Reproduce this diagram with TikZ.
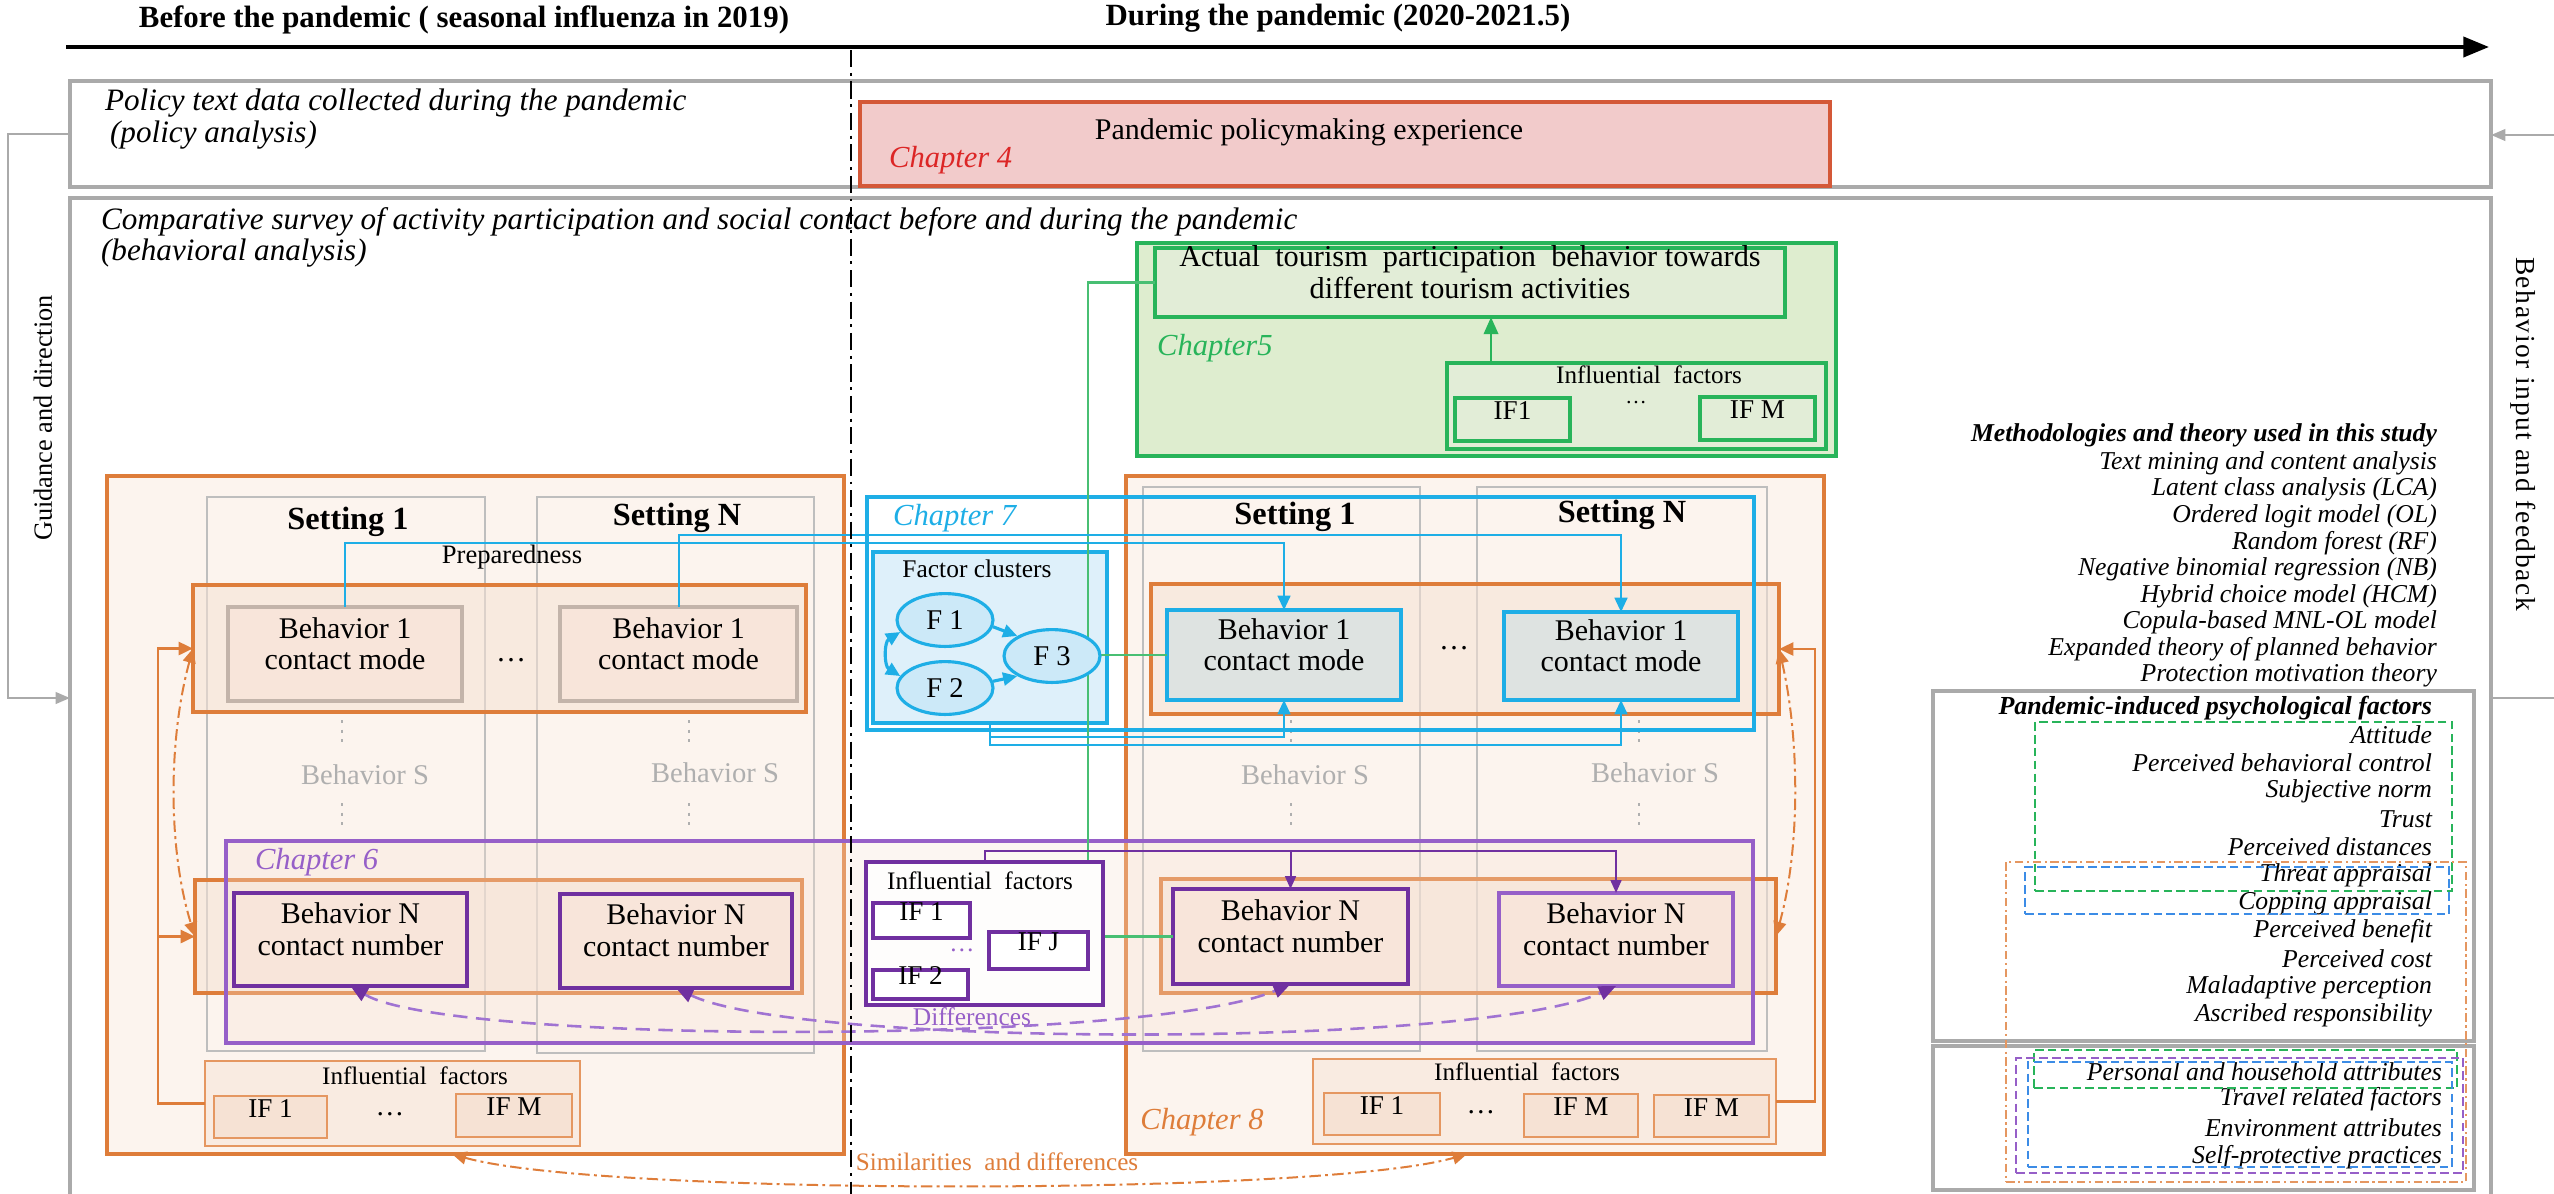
\documentclass[tikz,border=0pt]{standalone}
\usepackage{fontspec}
\setmainfont{Liberation Serif}
\usetikzlibrary{arrows.meta,fit,shapes.geometric}

\definecolor{orng}{RGB}{222,125,58}
\definecolor{orfill}{RGB}{252,244,238}
\definecolor{bandfill}{RGB}{246,226,212}
\definecolor{bxfill}{RGB}{248,229,218}
\definecolor{grline}{RGB}{170,170,170}
\definecolor{colgray}{RGB}{190,190,190}
\definecolor{cyn}{RGB}{30,174,230}
\definecolor{cynfill}{RGB}{222,240,250}
\definecolor{elfill}{RGB}{204,233,248}
\definecolor{bfill}{RGB}{222,227,225}
\definecolor{grn}{RGB}{40,180,90}
\definecolor{grnfill}{RGB}{222,237,207}
\definecolor{grninner}{RGB}{226,237,215}
\definecolor{purp}{RGB}{112,48,160}
\definecolor{mpurp}{RGB}{150,95,200}
\definecolor{lpurp}{RGB}{160,115,210}
\definecolor{redt}{RGB}{220,38,38}
\definecolor{redline}{RGB}{212,88,56}
\definecolor{redfill}{RGB}{242,203,203}
\definecolor{ltgray}{RGB}{175,175,175}
\definecolor{dblue}{RGB}{60,140,230}

\newcommand{\fs}[2]{\fontsize{#1}{#2}\selectfont}

\begin{document}
\begin{tikzpicture}[x=0.0123cm,y=-0.0123cm,
  fr/.style={inner sep=0pt,outer sep=0pt},
  gbox/.style={fr,draw=grline,line width=1.1pt},
  redbox/.style={fr,draw=redline,fill=redfill,line width=1.2pt},
  g5out/.style={fr,draw=grn,fill=grnfill,line width=1.1pt},
  g5in/.style={fr,draw=grn,fill=grninner,line width=1.1pt,align=center},
  orout/.style={fr,draw=orng,fill=orfill,line width=1.1pt},
  col/.style={fr,draw=colgray,line width=1pt},
  band/.style={fr,draw=orng,fill=bandfill,fill opacity=0.55,line width=1.1pt},
  lbx/.style={fr,draw=colgray!85!orng,fill=bxfill,line width=1.1pt,align=center,font=\fs{10.5}{10.8}},
  cbx/.style={fr,draw=cyn,fill=bfill,line width=1.3pt,align=center,font=\fs{10.5}{10.8}},
  pbx/.style={fr,draw=purp,fill=bxfill,line width=1.4pt,align=center,font=\fs{10.5}{11.2}},
  p6/.style={fr,draw=mpurp,fill=bandfill,fill opacity=0.3,line width=1.1pt},
  pif/.style={fr,draw=purp,fill=white!80!orfill,line width=1.2pt},
  pifs/.style={fr,draw=purp,fill=white,line width=1.3pt,font=\fs{9.5}{10}},
  oif/.style={fr,draw=orng!80,fill=bandfill!70,line width=0.9pt},
  oifs/.style={fr,draw=orng!80,fill=bandfill,line width=0.9pt,font=\fs{9.5}{10}},
  cybox/.style={fr,draw=cyn,line width=1.2pt},
  cyin/.style={fr,draw=cyn,fill=cynfill,line width=1.2pt},
  fel/.style={ellipse,draw=cyn,fill=elfill,line width=1.1pt,minimum width=1.18cm,minimum height=0.65cm,inner sep=0pt,font=\fs{10}{11}},
  ttl/.style={font=\fs{10.8}{12}\bfseries},
  itx/.style={font=\fs{10.9}{12}\itshape},
  chap/.style={font=\fs{10.7}{12}\itshape},
  sett/.style={font=\fs{11.3}{12}\bfseries},
  bsl/.style={text=ltgray,font=\fs{10}{11}},
  inf/.style={font=\fs{8.8}{10}},
  mth/.style={anchor=east,font=\fs{9}{10}\itshape},
  vtx/.style={font=\fs{9.2}{10}},
  dotl/.style={draw=ltgray,line width=0.8pt,dash pattern=on 1.2pt off 2.2pt},
  carrow/.style={draw=cyn,line width=0.7pt,-{Triangle[length=5pt,width=4.5pt]}},
  parrow/.style={draw=purp,line width=0.7pt,-{Triangle[length=4.5pt,width=3.8pt]}},
  pdash/.style={draw=lpurp,line width=0.9pt,dash pattern=on 5pt off 3pt,{Triangle[length=6pt,width=5pt,color=purp]}-{Triangle[length=6pt,width=5pt,color=purp]}},
  odd/.style={draw=orng,line width=0.7pt,dash pattern=on 4pt off 1.5pt on 1pt off 1.5pt,{Triangle[length=5pt,width=4.5pt]}-{Triangle[length=5pt,width=4.5pt]}},
  oarr/.style={draw=orng,line width=1pt,-{Triangle[length=5pt,width=4.5pt]}},
  gln/.style={draw=grn!85,line width=0.8pt},
  garr/.style={draw=grn,line width=1pt,-{Triangle[length=6pt,width=5pt]}},
  grarr/.style={draw=grline,line width=0.9pt,-{Triangle[length=5pt,width=4pt]}},
  timeline/.style={line width=1.4pt,-{Triangle[length=9pt,width=7pt]}},
  vdd/.style={line width=0.8pt,dash pattern=on 6pt off 2pt on 1pt off 2pt},
  dgrn/.style={fr,draw=grn,line width=0.7pt,dash pattern=on 3pt off 1.5pt},
  dblu/.style={fr,draw=dblue,line width=0.7pt,dash pattern=on 3pt off 1.5pt},
  dpur/.style={fr,draw=mpurp,line width=0.7pt,dash pattern=on 3pt off 1.5pt},
  dorg/.style={fr,draw=orng!80,line width=0.6pt,dash pattern=on 3pt off 1.2pt on 0.8pt off 1.2pt}
]
\useasboundingbox (0,0) rectangle (2554,1193);

% ---------- time axis ----------
\node[ttl] (tbefore) at (464,20) {Before the pandemic ( seasonal influenza in 2019)};
\node[ttl] (tduring) at (1338,18) {During the pandemic (2020-2021.5)};
\coordinate (axs) at (66,47);
\coordinate (axe) at (2489,47);
\draw[timeline] (axs) -- (axe);

% ---------- outer data frames ----------
\node[gbox, fit={(70,81) (2491,187)}] (pol) {};
\node[itx, anchor=west] (poltxt) at (95,103) {Policy text data collected during the pandemic};
\node[itx, anchor=west] (poltxt2) at (100,135) {(policy analysis)};
\node[gbox, fit={(70,198) (2491,1230)}] (beh) {};
\node[itx, anchor=west] (behtxt) at (91,222) {Comparative survey of activity participation and social contact before and during the pandemic};
\node[itx, anchor=west] (behtxt2) at (91,253) {(behavioral analysis)};

% guidance / feedback loops
\coordinate (gl1) at (8,134);
\coordinate (gl2) at (8,698);
\draw[grarr] (pol.west) -- (gl1) -- (gl2) -- (gl2 -| beh.west);
\node[vtx, rotate=90] (guid) at (43,418) {Guidance and direction};
\coordinate (fb1) at (2575,698);
\coordinate (fb2) at (2575,135);
\draw[grarr] (fb1 -| beh.east) -- (fb1) -- (fb2) -- (fb2 -| pol.east);
\node[rotate=-90, font=\fs{9.6}{10}\addfontfeatures{LetterSpace=6}] (feed) at (2523,434) {Behavior input and feedback};

% ---------- Chapter 4 ----------
\node[redbox, fit={(860,102) (1830,186)}] (ch4) {};
\node[font=\fs{10.5}{12}] (ch4txt) at (1309,132) {Pandemic policymaking experience};
\node[chap, text=redt, anchor=west] (ch4lab) at (879,160) {Chapter 4};

% ---------- Chapter 5 ----------
\node[g5out, fit={(1137,243) (1836,456)}] (ch5) {};
\node[g5in, fit={(1155,248) (1785,317)}, font=\fs{10.6}{11.2}] (tour) {Actual~~tourism~~participation~~behavior towards\\different tourism activities};
\node[chap, text=grn, anchor=west] (ch5lab) at (1147,348) {Chapter5};
\node[g5in, fit={(1447,363) (1826,449)}] (c5if) {};
\node[inf] (c5iflab) at (1649,375) {Influential~~factors};
\node[font=\fs{7.5}{8}, inner sep=0pt] (c5dots) at (1636,403) {\dots};
\node[g5in, fit={(1455,398) (1570,441)}, font=\fs{9.5}{10}] (c5if1) {IF1};
\node[g5in, fit={(1700,397) (1815,440)}, font=\fs{9.5}{10}] (c5ifm) {IF M};
\coordinate (c5x) at (1491,0);
\draw[garr] (c5if.north -| c5x) -- (tour.south -| c5x);

% ---------- Chapter 8 frames (before / during) ----------
\node[orout, fit={(107,476) (844,1154)}] (lo) {};
\node[orout, fit={(1126,476) (1824,1154)}] (ro) {};
\node[col, fit={(207,497) (485,1051)}] (lc1) {};
\node[col, fit={(537,497) (814,1053)}] (lcn) {};
\node[col, fit={(1143,487) (1420,1051)}] (rc1) {};
\node[col, fit={(1477,487) (1767,1051)}] (rcn) {};
\node[sett] (ls1) at (348,522) {Setting 1};
\node[sett] (lsn) at (677,518) {Setting N};
\node[sett] (rs1) at (1295,517) {Setting 1};
\node[sett] (rsn) at (1622,515) {Setting N};
\node[band, fit={(193,585) (806,712)}] (lb1) {};
\node[band, fit={(195,880) (802,993)}] (lbn) {};
\node[band, fit={(1151,584) (1779,714)}] (rb1) {};
\node[band, fit={(1161,879) (1776,993)}] (rbn) {};

% Behavior S placeholders
\node[bsl] (lbs1) at (365,775) {Behavior S};
\node[bsl] (lbsn) at (715,773) {Behavior S};
\node[bsl] (rbs1) at (1305,775) {Behavior S};
\node[bsl] (rbsn) at (1655,773) {Behavior S};
\foreach \x in {342,689,1291,1639}{
  \draw[dotl] (\x,720) -- (\x,742);
  \draw[dotl] (\x,803) -- (\x,825);
}

% ---------- Chapter 7 ----------
\node[cybox, fit={(867,497) (1754,730)}] (ch7) {};
\node[chap, text=cyn, anchor=west] (ch7lab) at (883,518) {Chapter 7};
\node[cyin, fit={(873,552) (1107,723)}] (fc) {};
\node[font=\fs{8.9}{10}] (fclab) at (977,569) {Factor clusters};

% ---------- Chapter 6 ----------
\node[p6, fit={(226,841) (1753,1043)}] (ch6) {};
\node[chap, text=mpurp, anchor=west] (ch6lab) at (245,862) {Chapter 6};

% green links from Chapter 5 run along this column
\coordinate (gx) at (1088,0);

% ---------- behaviour boxes ----------
\node[lbx, fit={(228,607) (462,701)}] (lb1a) {Behavior 1\\contact mode};
\node[lbx, fit={(560,607) (797,701)}] (lb1b) {Behavior 1\\contact mode};
\node[cbx, fit={(1167,610) (1401,700)}] (rb1a) {Behavior 1\\contact mode};
\node[cbx, fit={(1504,612) (1738,700)}] (rb1b) {Behavior 1\\contact mode};
\node[font=\fs{10.5}{11}] (ldots1) at (511,660) {\dots};
\node[font=\fs{10.5}{11}] (rdots1) at (1454,648) {\dots};

\node[pbx, fit={(234,893) (467,986)}] (lbna) {Behavior N\\contact number};
\node[pbx, fit={(560,894) (792,988)}] (lbnb) {Behavior N\\contact number};
\node[pbx, fit={(1173,889) (1408,984)}] (rbna) {Behavior N\\contact number};
\node[pbx, draw=mpurp, fit={(1499,893) (1733,986)}] (rbnb) {Behavior N\\contact number};

\draw[gln] (tour.west) -| (gx |- rbna.west) -- (rbna.west);
\draw[gln] (gx |- rb1a.west) -- (rb1a.west);

% factor clusters
\node[fel] (f1) at (945,620) {F 1};
\node[fel] (f2) at (945,688) {F 2};
\node[fel] (f3) at (1052,656) {F 3};
\draw[carrow, line width=1.1pt] (f1.-8) -- (f3.150);
\draw[carrow, line width=1.1pt] (f2.8) -- (f3.-150);
\draw[carrow, line width=1.1pt, {Triangle[length=5pt,width=4.5pt]}-{Triangle[length=5pt,width=4.5pt]}] (f1.195) .. controls (884,642) and (884,666) .. (f2.165);

% preparedness links
\coordinate (cy1) at (0,543);
\coordinate (cy2) at (0,535);
\coordinate (cy3) at (0,737);
\coordinate (cy4) at (0,745);
\draw[carrow] (lb1a.north) -- (lb1a.north |- cy1) -- (rb1a.north |- cy1) -- (rb1a.north);
\draw[carrow] (lb1b.north) -- (lb1b.north |- cy2) -- (rb1b.north |- cy2) -- (rb1b.north);
\node[font=\fs{9.3}{10}] (prep) at (512,557) {Preparedness};
\draw[carrow] (fc.south) -- (fc.south |- cy3) -- (rb1a.south |- cy3) -- (rb1a.south);
\draw[carrow] (fc.south) -- (fc.south |- cy4) -- (rb1b.south |- cy4) -- (rb1b.south);

% ---------- influential factors (Chapter 6, middle) ----------
\node[pif, fit={(866,862) (1103,1005)}] (mif) {};
\node[inf] (miflab) at (980,881) {Influential~~factors};
\node[pifs, fit={(873,903) (970,938)}] (mif1) {IF 1};
\node[pifs, fit={(989,932) (1088,969)}] (mifj) {IF J};
\node[pifs, fit={(873,970) (968,999)}] (mif2) {IF 2};
\node[inf, text=mpurp] (mifdots) at (962,950) {\dots};
\coordinate (py) at (0,851);
\draw[parrow] (mif.north) |- (rbnb.north |- py) -- (rbnb.north);
\draw[parrow] (rbna.north |- py) -- (rbna.north);

% differences
\draw[pdash] (lbna.south) .. controls (450,1045) and (1150,1045) .. (rbna.south);
\draw[pdash] (lbnb.south) .. controls (800,1048) and (1480,1048) .. (rbnb.south);
\node[font=\fs{8.9}{10}, text=mpurp] (diff) at (972,1017) {Differences};

% ---------- influential factors (Chapter 8) ----------
\node[oif, fit={(205,1061) (580,1146)}] (lif) {};
\node[inf] (liflab) at (415,1076) {Influential~~factors};
\node[oifs, fit={(214,1096) (327,1138)}] (lif1) {IF 1};
\node[font=\fs{10}{11}] (lifdots) at (390,1114) {\dots};
\node[oifs, fit={(456,1094) (572,1137)}] (lifm) {IF M};

\node[oif, fit={(1313,1059) (1776,1144)}] (rif) {};
\node[inf] (riflab) at (1527,1072) {Influential~~factors};
\node[oifs, fit={(1324,1093) (1440,1135)}] (rif1) {IF 1};
\node[font=\fs{10}{11}] (rifdots) at (1481,1112) {\dots};
\node[oifs, fit={(1524,1094) (1638,1137)}] (rifm) {IF M};
\node[oifs, fit={(1654,1095) (1769,1137)}] (rifm2) {IF M};
\node[chap, text=orng] (ch8lab) at (1202,1122) {Chapter 8};

\coordinate (olx) at (158,0);
\coordinate (orx) at (1815,0);
\draw[oarr] (lif.west) -| (olx |- lb1.west) -- (lb1.west);
\draw[oarr] (olx |- lbn.west) -- (lbn.west);
\draw[odd] (lb1.west) .. controls (168,740) and (168,850) .. (lbn.west);
\draw[oarr] (rif.east) -| (orx |- rb1.east) -- (rb1.east);
\draw[odd] (rb1.east) .. controls (1800,740) and (1800,850) .. (rbn.east);

% similarities
\coordinate (sx1) at (452,0);
\coordinate (sx2) at (1467,0);
\draw[odd] (sx1 |- lo.south) .. controls (600,1196) and (1320,1196) .. (sx2 |- ro.south);
\node[font=\fs{8.8}{10}, text=orng] (simi) at (997,1162) {Similarities~~and differences};

% ---------- before / during divider ----------
\coordinate (dv1) at (851,50);
\coordinate (dv2) at (851,1200);
\draw[vdd] (dv1) -- (dv2);

% ---------- methods and factors ----------
\node[mth, font=\fs{9}{10}\bfseries\itshape] (mt0) at (2447,435) {Methodologies and theory used in this study};
\node[mth] (mt1) at (2447,463) {Text mining and content analysis};
\node[mth] (mt2) at (2447,489.6) {Latent class analysis (LCA)};
\node[mth] (mt3) at (2447,516.2) {Ordered logit model (OL)};
\node[mth] (mt4) at (2447,542.8) {Random forest (RF)};
\node[mth] (mt5) at (2447,569.4) {Negative binomial regression (NB)};
\node[mth] (mt6) at (2447,596) {Hybrid choice model (HCM)};
\node[mth] (mt7) at (2447,622.6) {Copula-based MNL-OL model};
\node[mth] (mt8) at (2447,649.2) {Expanded theory of planned behavior};
\node[mth] (mt9) at (2447,675.8) {Protection motivation theory};

\node[gbox, fit={(1933,691) (2474,1041)}] (psy) {};
\node[mth, font=\fs{9.1}{10}\bfseries\itshape] (ps0) at (2442,708) {Pandemic-induced psychological factors};
\node[mth] (ps1) at (2442,735) {Attitude};
\node[mth] (ps2) at (2442,763) {Perceived behavioral control};
\node[mth] (ps3) at (2442,791) {Subjective norm};
\node[mth] (ps4) at (2442,819) {Trust};
\node[mth] (ps5) at (2442,847) {Perceived distances};
\node[mth] (ps6) at (2442,875) {Threat appraisal};
\node[mth] (ps7) at (2442,903) {Copping appraisal};
\node[mth] (ps8) at (2442,931) {Perceived benefit};
\node[mth] (ps9) at (2442,959) {Perceived cost};
\node[mth] (ps10) at (2442,987) {Maladaptive perception};
\node[mth] (ps11) at (2442,1015) {Ascribed responsibility};
\node[dgrn, fit={(2035,722) (2452,891)}] (psg) {};
\node[dblu, fit={(2025,867) (2449,914)}] (psb) {};

\node[gbox, fit={(1933,1046) (2474,1190)}] (att) {};
\node[mth] (at1) at (2452,1072) {Personal and household attributes};
\node[mth] (at2) at (2452,1099) {Travel related factors};
\node[mth] (at3) at (2452,1128) {Environment attributes};
\node[mth] (at4) at (2452,1157) {Self-protective practices};
\node[dgrn, fit={(2034,1050) (2457,1088)}] (atg) {};
\node[dpur, fit={(2016,1058) (2463,1173)}] (atp) {};
\node[dblu, fit={(2028,1062) (2452,1167)}] (atb) {};
\node[dorg, fit={(2006,862) (2466,1182)}] (org) {};
\end{tikzpicture}
\end{document}
